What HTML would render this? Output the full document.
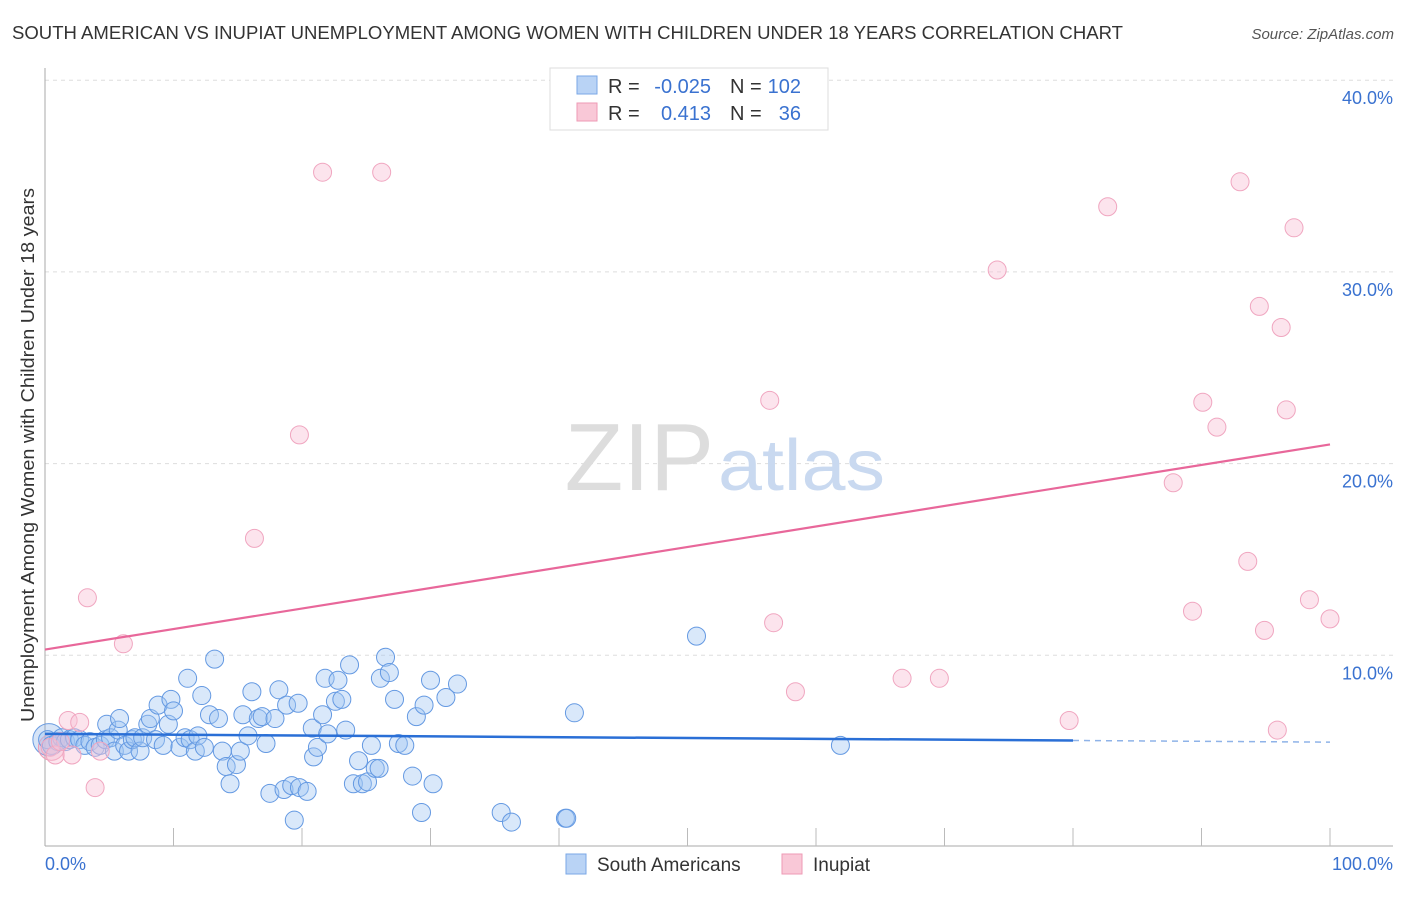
<!DOCTYPE html>
<html><head><meta charset="utf-8"><style>
body{margin:0;background:#fff;font-family:"Liberation Sans",sans-serif;}
svg text{font-family:"Liberation Sans",sans-serif;}
</style></head><body>
<svg id="chart" width="1406" height="892" xmlns="http://www.w3.org/2000/svg">
<text x="12" y="39" font-size="18" fill="#333" textLength="1111" lengthAdjust="spacingAndGlyphs">SOUTH AMERICAN VS INUPIAT UNEMPLOYMENT AMONG WOMEN WITH CHILDREN UNDER 18 YEARS CORRELATION CHART</text>
<text x="1394" y="39" font-size="15" fill="#555" text-anchor="end" font-style="italic">Source: ZipAtlas.com</text>
<text transform="translate(34,455) rotate(-90)" font-size="18" fill="#333" text-anchor="middle" textLength="534" lengthAdjust="spacingAndGlyphs">Unemployment Among Women with Children Under 18 years</text>
<g id="grid"></g>
<g id="axes"></g>
<text x="714" y="490" font-size="96" text-anchor="end" fill="#ddd" font-family="Liberation Serif,serif">ZIP</text>
<text x="718" y="490" font-size="72" fill="#c9d9f0" textLength="167" lengthAdjust="spacingAndGlyphs">atlas</text>
<g id="pts"></g>
<g id="lines"></g>
<g>
<rect x="550" y="68" width="278" height="62" fill="#fff" stroke="#ddd"/>
<rect x="577" y="76" width="20" height="18" fill="#b9d3f5" stroke="#7aa7e6"/>
<rect x="577" y="103" width="20" height="18" fill="#f9c8d7" stroke="#ee9ab4"/>
<text x="608" y="93" font-size="20" fill="#333">R =</text><text x="711" y="93" font-size="20" fill="#3a72d0" text-anchor="end">-0.025</text>
<text x="730" y="93" font-size="20" fill="#333">N =</text><text x="801" y="93" font-size="20" fill="#3a72d0" text-anchor="end">102</text>
<text x="608" y="120" font-size="20" fill="#333">R =</text><text x="711" y="120" font-size="20" fill="#3a72d0" text-anchor="end">0.413</text>
<text x="730" y="120" font-size="20" fill="#333">N =</text><text x="801" y="120" font-size="20" fill="#3a72d0" text-anchor="end">36</text>
</g>
<g>
<rect x="566" y="854" width="20" height="20" fill="#b9d3f5" stroke="#7aa7e6"/>
<text x="597" y="871" font-size="19" fill="#333">South Americans</text>
<rect x="782" y="854" width="20" height="20" fill="#f9c8d7" stroke="#ee9ab4"/>
<text x="813" y="871" font-size="19" fill="#333">Inupiat</text>
</g>
</svg>
<script>
const yTicks=[10,20,30,40];
const yTickLabels=["10.0%","20.0%","30.0%","40.0%"];
const blueX=[0.2,0.5,1.0,1.3,1.6,1.9,2.3,2.7,3.1,3.5,3.9,4.3,4.7,4.8,5.1,5.4,5.7,5.8,6.2,6.5,6.8,7.0,7.4,7.6,8.0,8.2,8.6,8.8,9.2,9.6,9.8,10.0,10.5,10.9,11.1,11.3,11.7,11.9,12.2,12.4,12.8,13.2,13.5,13.8,14.1,14.4,14.9,15.2,15.4,15.8,16.1,16.6,16.9,17.2,17.5,17.9,18.2,18.6,18.8,19.2,19.4,19.7,19.8,20.4,20.8,20.9,21.2,21.6,21.8,22.0,22.6,22.8,23.1,23.4,23.7,24.0,24.4,24.7,25.1,25.4,25.7,26.0,26.1,26.5,26.8,27.2,27.5,28.0,28.6,28.9,29.3,29.5,30.0,30.2,31.2,32.1,35.5,36.3,40.5,40.6,41.2,50.7,61.9];
const blueY=[5.6,5.3,5.5,5.7,5.5,5.6,5.7,5.6,5.3,5.5,5.2,5.3,5.6,6.4,5.7,5.0,6.1,6.7,5.3,5.0,5.6,5.7,5.0,5.7,6.4,6.7,5.6,7.4,5.3,6.4,7.7,7.1,5.2,5.7,8.8,5.6,5.0,5.8,7.9,5.2,6.9,9.8,6.7,5.0,4.2,3.3,4.3,5.0,6.9,5.8,8.1,6.7,6.8,5.4,2.8,6.7,8.2,3.0,7.4,3.2,1.4,7.5,3.1,2.9,6.2,4.7,5.2,6.9,8.8,5.9,7.6,8.7,7.7,6.1,9.5,3.3,4.5,3.3,3.4,5.3,4.1,4.1,8.8,9.9,9.1,7.7,5.4,5.3,3.7,6.8,1.8,7.4,8.7,3.3,7.8,8.5,1.8,1.3,1.5,1.5,7.0,11.0,5.3];
const pinkX=[0.4,0.8,1.2,1.8,2.1,2.7,3.3,3.9,4.3,6.1,16.3,19.8,21.6,26.2,56.4,56.7,58.4,66.7,69.6,74.1,79.7,82.7,87.8,89.3,90.1,91.2,93.0,93.6,94.5,94.9,96.2,96.6,97.2,95.9,98.4,100.0];
const pinkY=[5.2,4.8,5.5,6.6,4.8,6.5,13.0,3.1,5.0,10.6,16.1,21.5,35.2,35.2,23.3,11.7,8.1,8.8,8.8,30.1,6.6,33.4,19.0,12.3,23.2,21.9,34.7,14.9,28.2,11.3,27.1,22.8,32.3,6.1,12.9,11.9];
const blueTrend=[5.9,5.47];
const pinkTrend=[10.3,21.0];
const X=v=>45+v*12.85, Y=v=>847-v*19.17;
const NS="http://www.w3.org/2000/svg";
function mk(t,a,p){const e=document.createElementNS(NS,t);for(const k in a)e.setAttribute(k,a[k]);p.appendChild(e);return e;}
const grid=document.getElementById('grid'),axes=document.getElementById('axes'),pts=document.getElementById('pts'),lines=document.getElementById('lines');
yTicks.forEach((t,i)=>{
 const l=mk('line',{x1:45,x2:1393,y1:Y(t),y2:Y(t),stroke:'#ddd','stroke-dasharray':'4,4'},grid);
 
 
 const tx=mk('text',{x:1393,y:Y(t)+24,'font-size':18,fill:'#3a72d0','text-anchor':'end'},axes);
 tx.textContent=yTickLabels[i];
 
 
});
mk('line',{x1:45,x2:45,y1:68,y2:846,stroke:'#aaa'},axes);
mk('line',{x1:45,x2:1393,y1:846,y2:846,stroke:'#aaa'},axes);
for(let i=1;i<=10;i++){const l=mk('line',{x1:X(i*10),x2:X(i*10),y1:828,y2:846,stroke:'#bbb'},axes);
 
 }
let t0=mk('text',{x:45,y:870,'font-size':18,fill:'#3a72d0'},axes);t0.textContent='0.0%';


let t1=mk('text',{x:1393,y:870,'font-size':18,fill:'#3a72d0','text-anchor':'end'},axes);t1.textContent='100.0%';


let bb=mk('circle',{cx:X(0.3),cy:Y(5.6),r:16,fill:'rgba(120,165,230,0.3)',stroke:'#6a9be0'},pts);


let bp=mk('circle',{cx:X(0.5),cy:Y(5.2),r:13,fill:'rgba(240,160,190,0.3)',stroke:'#ee9ab4'},pts);


blueX.forEach((x,i)=>{const c=mk('circle',{cx:X(x),cy:Y(blueY[i]),r:9,fill:'rgba(160,198,242,0.4)',stroke:'#6499e2','stroke-width':1},pts);
 
 });
pinkX.forEach((x,i)=>{const c=mk('circle',{cx:X(x),cy:Y(pinkY[i]),r:9,fill:'rgba(248,195,214,0.45)',stroke:'#f0a6c0','stroke-width':1},pts);
 
 });
const bAt=v=>blueTrend[0]+(blueTrend[1]-blueTrend[0])*v/100;
let bl=mk('line',{x1:X(0),y1:Y(bAt(0)),x2:X(80),y2:Y(bAt(80)),stroke:'#2a6fd6','stroke-width':2.5},lines);


let bd=mk('line',{x1:X(80),y1:Y(bAt(80)),x2:X(100),y2:Y(bAt(100)),stroke:'#8fb3e8','stroke-width':1.5,'stroke-dasharray':'6,5'},lines);


let pl=mk('line',{x1:X(0),y1:Y(pinkTrend[0]),x2:X(100),y2:Y(pinkTrend[1]),stroke:'#e8679a','stroke-width':2.2},lines);


</script>
</body></html>
